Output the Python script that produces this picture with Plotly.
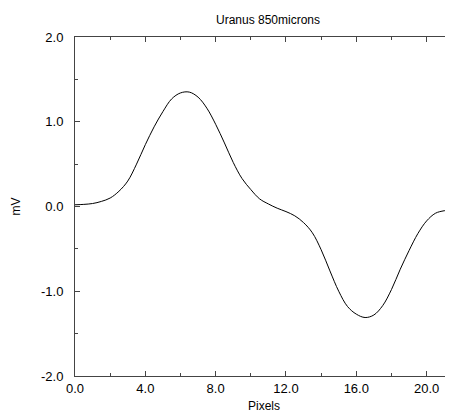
import plotly.graph_objects as go

x_pixels = [0.0, 0.5, 1.0, 1.5, 2.0, 2.5, 3.0, 3.5, 4.0, 4.5, 5.0, 5.5, 6.0, 6.5, 7.0, 7.5,
            8.0, 8.5, 9.0, 9.5, 10.0, 10.5, 11.0, 11.5, 12.0, 12.5, 13.0, 13.5, 14.0, 14.5,
            15.0, 15.5, 16.0, 16.5, 17.0, 17.5, 18.0, 18.5, 19.0, 19.5, 20.0, 20.5, 21.0, 21.5]
mv_values = [0.02, 0.025, 0.035, 0.06, 0.10, 0.18, 0.30, 0.50, 0.73, 0.94, 1.12, 1.27, 1.34, 1.35,
             1.29, 1.16, 0.97, 0.75, 0.52, 0.33, 0.20, 0.09, 0.03, -0.02, -0.06, -0.11, -0.19,
             -0.31, -0.51, -0.76, -1.00, -1.18, -1.27, -1.31, -1.28, -1.17, -0.98, -0.74, -0.52,
             -0.32, -0.17, -0.08, -0.05, -0.04]

x_ticks = [0.0, 4.0, 8.0, 12.0, 16.0, 20.0]
y_ticks = [-2.0, -1.0, 0.0, 1.0, 2.0]

font = "Liberation Sans, Arial, Helvetica, sans-serif"
axcol = "#444444"

W, H = 445, 405

fig = go.Figure()
fig.add_trace(go.Scatter(x=x_pixels, y=mv_values, mode="lines",
                         line=dict(color="black", width=1, shape="spline"),
                         showlegend=False, hoverinfo="skip"))

fig.update_layout(
    width=W, height=H,
    margin=dict(l=67, r=0, t=29, b=37, autoexpand=False),
    paper_bgcolor="white", plot_bgcolor="white",
    font=dict(family=font, size=13, color="black"),
    title=dict(text="Uranus 850microns", x=260/W, xanchor="center",
               y=1 - 12/H, yanchor="middle", yref="container",
               font=dict(size=12, family=font, color="black")),
)
fig.update_xaxes(
    range=[0, 21.5], tickvals=x_ticks, ticktext=[f"{v:.1f}" for v in x_ticks],
    showline=True, linecolor=axcol, linewidth=1, mirror="ticks",
    ticks="inside", ticklen=5, tickcolor=axcol, tickwidth=1,
    minor=dict(dtick=2, ticks="inside", ticklen=3, tickcolor=axcol, tickwidth=1),
    showgrid=False, zeroline=False,
    title=dict(text="Pixels", font=dict(size=12), standoff=11),
    tickfont=dict(size=13),
)
fig.update_yaxes(
    range=[-2, 2], tickvals=y_ticks, ticktext=[f"{v:.1f}" for v in y_ticks],
    showline=True, linecolor=axcol, linewidth=1, mirror=False,
    ticks="inside", ticklen=5, tickcolor=axcol, tickwidth=1,
    minor=dict(dtick=0.5, ticks="inside", ticklen=3, tickcolor=axcol, tickwidth=1),
    showgrid=False, zeroline=False,
    ticklabelstandoff=8,
    title=dict(text="mV", font=dict(size=12), standoff=17),
    tickfont=dict(size=13),
)

fig.write_html("out.html")
